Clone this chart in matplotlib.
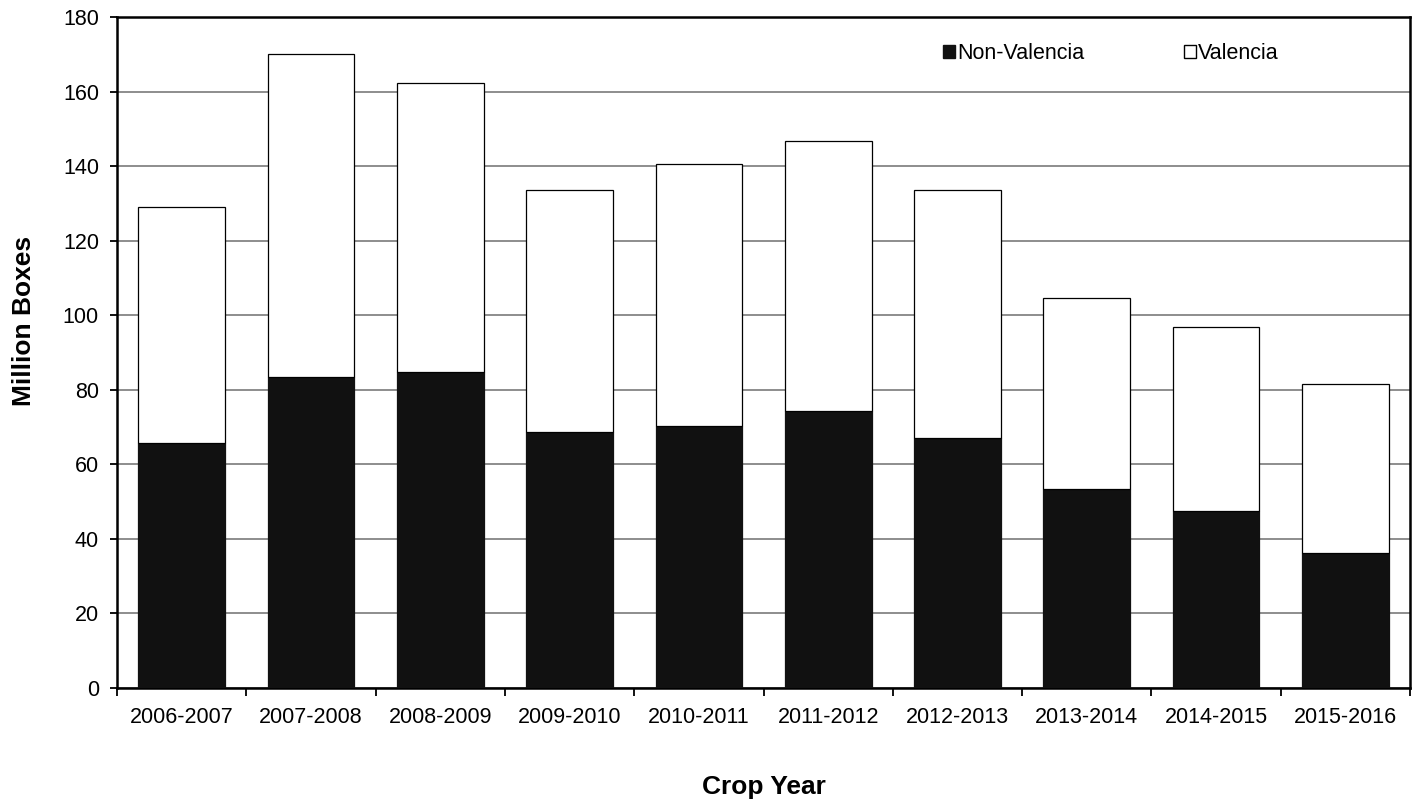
import numpy as np
import matplotlib.pyplot as plt
from matplotlib.patches import Patch

years = ["2006-2007", "2007-2008", "2008-2009", "2009-2010", "2010-2011",
         "2011-2012", "2012-2013", "2013-2014", "2014-2015", "2015-2016"]
totals = [128.9, 170.2, 162.4, 133.6, 140.6, 146.7, 133.6, 104.6, 96.8, 81.5]
non_valencia = [65.6, 83.4, 84.6, 68.7, 70.3, 74.3, 67.1, 53.4, 47.5, 36.2]
valencia = [t - n for t, n in zip(totals, non_valencia)]

plt.rcParams['font.family'] = ['Liberation Sans', 'DejaVu Sans']

fig = plt.figure(figsize=(14.24, 8.02), dpi=100)
ax = fig.add_axes([0.0822, 0.1425, 0.908, 0.8363])

x = np.arange(len(years))
ax.bar(x, non_valencia, width=0.67, color='#111111', edgecolor='#111111',
       linewidth=0.9, zorder=3)
ax.bar(x, valencia, bottom=non_valencia, width=0.67, color='white',
       edgecolor='black', linewidth=0.9, zorder=3)

ax.set_xlim(-0.5, len(years) - 0.5)
ax.set_ylim(0, 180)
ax.set_yticks(np.arange(0, 181, 20))
ax.yaxis.grid(True, color='#858585', linewidth=1.3, zorder=0)
ax.set_axisbelow(True)

ax.set_xticks(x)
ax.set_xticklabels(years)
ax.set_xticks(np.arange(-0.5, len(years), 1), minor=True)
ax.tick_params(axis='x', which='major', length=0, pad=14, labelsize=15.5)
ax.tick_params(axis='x', which='minor', length=6, width=1.3, direction='out')
ax.tick_params(axis='y', length=5, width=1.3, direction='out', pad=8,
               labelsize=15.5)

for s in ax.spines.values():
    s.set_linewidth(1.8)

ax.set_ylabel("Million Boxes", fontsize=19, fontweight='bold', labelpad=19)
ax.yaxis.label.set_y(0.547)
ax.set_xlabel("Crop Year", fontsize=19, fontweight='bold', labelpad=34)

handles = [Patch(facecolor='#111111', edgecolor='#111111', label='Non-Valencia'),
           Patch(facecolor='white', edgecolor='black', label='Valencia')]
ax.legend(handles=handles, loc='center left', bbox_to_anchor=(0.639, 0.946),
          ncol=2, frameon=False, fontsize=15.5, handlelength=0.55,
          handleheight=0.55, handletextpad=0.12, columnspacing=4.6,
          borderpad=0, borderaxespad=0)

fig.savefig("out.png", dpi=100)
